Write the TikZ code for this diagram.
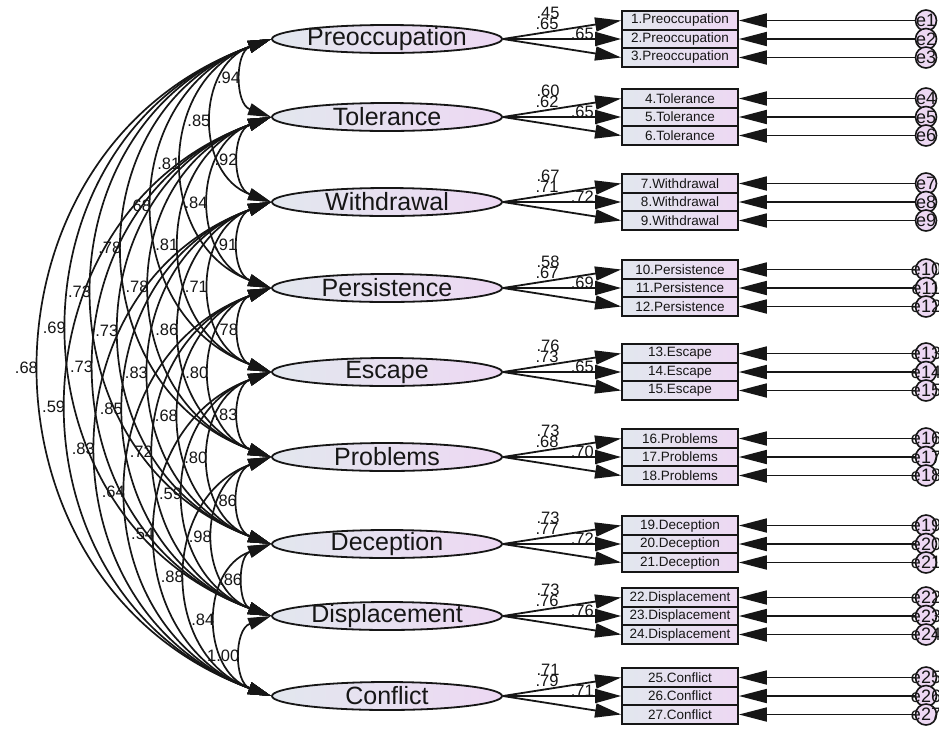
\documentclass[tikz,border=0pt]{standalone}
\usepackage{fontspec}
\setmainfont{Liberation Sans}
\usetikzlibrary{arrows.meta,shapes.geometric}
\definecolor{lblue}{HTML}{E2E7EE}
\definecolor{lpink}{HTML}{EDD8F3}
\definecolor{ink}{HTML}{161616}
\newcommand{\fbig}{\fontsize{25}{25}\selectfont}
\newcommand{\fitem}{\fontsize{13.5}{13.5}\selectfont}
\newcommand{\flab}{\fontsize{16.5}{16.5}\selectfont}
\newcommand{\ferr}{\fontsize{18}{18}\selectfont}
\begin{document}
\begin{tikzpicture}[x=1pt,y=-1pt,
  factor/.style={ellipse, draw=ink, line width=1.8pt, left color=lblue, right color=lpink,
    minimum width=230pt, minimum height=28pt, inner sep=0pt},
  itembox/.style={rectangle, draw=ink, line width=1.8pt, left color=lblue, right color=lpink,
    minimum width=116pt, minimum height=18.5pt, inner sep=0pt, font=\fitem, text=ink},
  errc/.style={circle, draw=ink, line width=1.6pt, fill=lpink, minimum size=21pt,
    inner sep=0pt},
  errtext/.style={font=\ferr, text=ink, inner sep=0pt},
  lab/.style={font=\flab, text=ink, inner sep=0pt},
  covlab/.style={font=\flab, text=ink, inner sep=1pt, anchor=east, xshift=-2pt},
  cov/.style={{Triangle[length=23pt,width=12pt]}-{Triangle[length=23pt,width=12pt]},
    line width=1.7pt, draw=ink},
  load/.style={-{Triangle[length=26pt,width=14pt]}, line width=1.8pt, draw=ink},
  erra/.style={-{Triangle[length=28pt,width=14pt]}, line width=1.8pt, draw=ink}]
\useasboundingbox (0,0) rectangle (939,729);
\fill[white] (0,0) rectangle (939,729);

% factors, indicators and error terms
\foreach \n/\y [count=\i] in {Preoccupation/39, Tolerance/117, Withdrawal/202,
    Persistence/288, Escape/372, Problems/457, Deception/544, Displacement/616, Conflict/696} {
  \node[factor, label={[font=\fbig, text=ink]center:\n}] (f\i) at (387,\y) {};
  \pgfmathtruncatemacro\a{3*\i-2}
  \pgfmathtruncatemacro\b{3*\i-1}
  \pgfmathtruncatemacro\c{3*\i}
  \node[itembox] (b\a) at (680,\y-18.5) {\a.\n};
  \node[itembox] (b\b) at (680,\y) {\b.\n};
  \node[itembox] (b\c) at (680,\y+18.5) {\c.\n};
  \node[errc, label={[errtext]center:e\a}] (e\a) at (926,\y-18.5) {};
  \node[errc, label={[errtext]center:e\b}] (e\b) at (926,\y) {};
  \node[errc, label={[errtext]center:e\c}] (e\c) at (926,\y+18.5) {};
  \draw[erra] (e\a.west) -- (b\a.east);
  \draw[erra] (e\b.west) -- (b\b.east);
  \draw[erra] (e\c.west) -- (b\c.east);
}

% loading labels
\foreach \i/\y/\p/\q/\r in {1/39/45/65/65, 2/117/60/62/65, 3/202/67/71/72,
    4/288/58/67/69, 5/372/76/73/65, 6/457/73/68/70, 7/544/73/77/72,
    8/616/73/76/76, 9/696/71/79/71} {
  \node[lab] (la\i) at (548,\y-26) {.\p};
  \node[lab] (lb\i) at (547,\y-15) {.\q};
  \node[lab, anchor=east] (lc\i) at (594,\y-5) {.\r};
}

% loading arrows
\foreach \i in {1,...,9} {
  \pgfmathtruncatemacro\a{3*\i-2}
  \pgfmathtruncatemacro\b{3*\i-1}
  \pgfmathtruncatemacro\c{3*\i}
  \draw[load] (f\i.east) -- (b\a.west);
  \draw[load] (f\i.east) -- (b\b.west);
  \draw[load] (f\i.east) -- (b\c.west);
}

% covariances
\foreach \i/\j/\v in {1/2/.94, 1/3/.85, 1/4/.81, 1/5/.68, 1/6/.78, 1/7/.73, 1/8/.69, 1/9/.68,
    2/3/.92, 2/4/.84, 2/5/.81, 2/6/.78, 2/7/.73, 2/8/.73, 2/9/.59,
    3/4/.91, 3/5/.71, 3/6/.86, 3/7/.83, 3/8/.85, 3/9/.83,
    4/5/.78, 4/6/.80, 4/7/.68, 4/8/.72, 4/9/.64,
    5/6/.83, 5/7/.80, 5/8/.59, 5/9/.54,
    6/7/.86, 6/8/.98, 6/9/.88,
    7/8/.86, 7/9/.84,
    8/9/1.00} {
  \draw[cov] (f\i.west) to[bend right=70, looseness=1.27] node[midway, covlab] (c\i\j) {\v} (f\j.west);
}
\end{tikzpicture}
\end{document}
